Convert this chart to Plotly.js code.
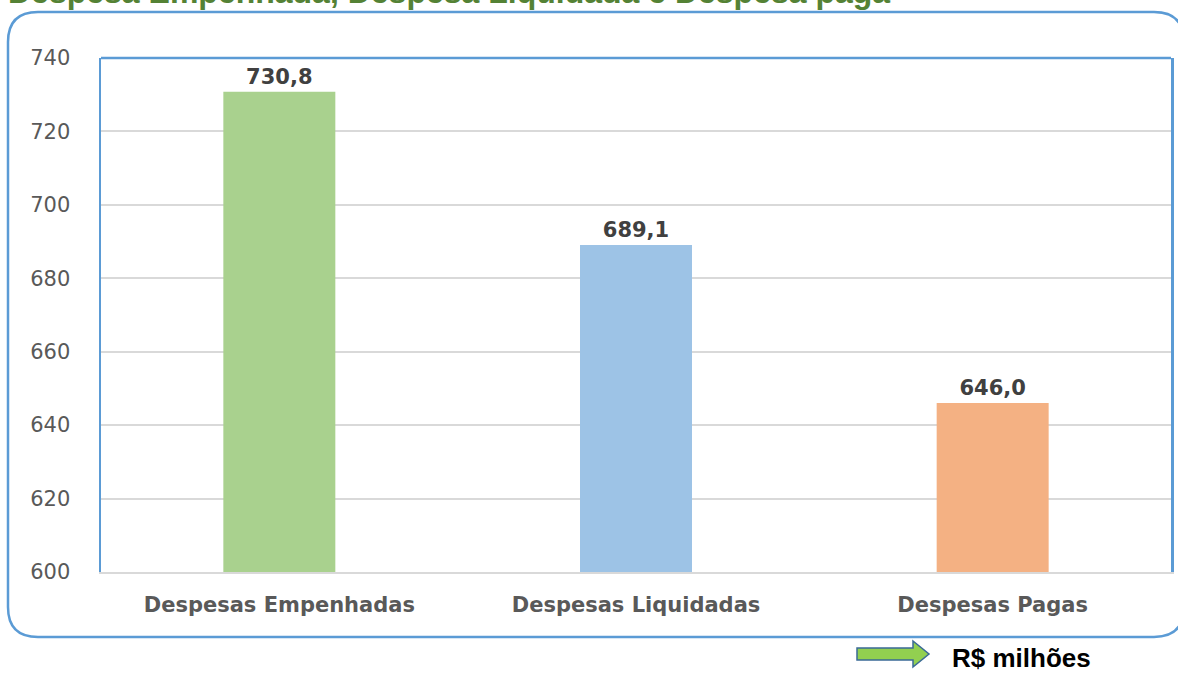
<!DOCTYPE html>
<html>
<head>
<meta charset="utf-8">
<script src="https://cdn.plot.ly/plotly-3.0.1.min.js"></script>
<style>
  html, body { margin: 0; padding: 0; background: #fff; }
  #chart { width: 1178px; height: 674px; }
</style>
</head>
<body>
<div id="chart"></div>
<script>
// categories and values (R$ milhões)
const categorias = ['Despesas Empenhadas', 'Despesas Liquidadas', 'Despesas Pagas'];
const valores = [730.8, 689.1, 646.0];
const cores = ['#A9D18E', '#9DC3E6', '#F4B183'];
const yTicks = [600, 620, 640, 660, 680, 700, 720, 740];

const rotulos = valores.map(v => v.toFixed(1).replace('.', ','));

// helpers to convert page pixels into paper coords for decorations
const L = 101, R = 1171, T = 58, B = 572;
const px = x => (x - L) / (R - L);
const py = y => (B - y) / (B - T);

function roundRect(x0, y0, x1, y1, r) {
  return 'M' + px(x0 + r) + ',' + py(y0) +
    ' L' + px(x1 - r) + ',' + py(y0) +
    ' Q' + px(x1) + ',' + py(y0) + ' ' + px(x1) + ',' + py(y0 + r) +
    ' L' + px(x1) + ',' + py(y1 - r) +
    ' Q' + px(x1) + ',' + py(y1) + ' ' + px(x1 - r) + ',' + py(y1) +
    ' L' + px(x0 + r) + ',' + py(y1) +
    ' Q' + px(x0) + ',' + py(y1) + ' ' + px(x0) + ',' + py(y1 - r) +
    ' L' + px(x0) + ',' + py(y0 + r) +
    ' Q' + px(x0) + ',' + py(y0) + ' ' + px(x0 + r) + ',' + py(y0) + ' Z';
}

function arrowPath() {
  const pts = [[857, 648], [913, 648], [913, 641], [929, 654], [913, 667], [913, 660], [857, 660]];
  return 'M' + pts.map(p => px(p[0]) + ',' + py(p[1])).join(' L') + ' Z';
}

const trace = {
  type: 'bar',
  x: categorias,
  y: valores,
  text: rotulos,
  textposition: 'outside',
  cliponaxis: false,
  textfont: { family: 'DejaVu Sans', size: 21, color: '#404040', weight: 'bold' },
  marker: { color: cores },
  hoverinfo: 'none'
};

const layout = {
  width: 1178,
  height: 674,
  margin: { l: L, r: 1178 - R, t: T, b: 674 - B },
  paper_bgcolor: '#ffffff',
  plot_bgcolor: '#ffffff',
  showlegend: false,
  bargap: 0.686,
  xaxis: {
    showline: true,
    linecolor: '#d9d9d9',
    linewidth: 2,
    ticks: '',
    ticklabelstandoff: 13,
    tickfont: { family: 'DejaVu Sans', size: 21, color: '#595959', weight: 'bold' }
  },
  yaxis: {
    range: [600, 740],
    tickvals: yTicks,
    showgrid: true,
    gridcolor: '#d9d9d9',
    gridwidth: 2,
    showline: true,
    mirror: true,
    linecolor: '#5B9BD5',
    linewidth: 2.5,
    zeroline: false,
    ticks: '',
    ticklabelstandoff: 24,
    tickfont: { family: 'DejaVu Sans', size: 21, color: '#595959' }
  },
  shapes: [
    { type: 'line', xref: 'paper', yref: 'paper', x0: 0, x1: 1, y0: 1, y1: 1,
      line: { color: '#5B9BD5', width: 2.5 } },
    { type: 'path', xref: 'paper', yref: 'paper', path: roundRect(8, 12, 1184, 637, 30),
      line: { color: '#5B9BD5', width: 2.5 }, fillcolor: 'rgba(0,0,0,0)' },
    { type: 'path', xref: 'paper', yref: 'paper', path: arrowPath(),
      line: { color: '#3A6A96', width: 1.5 }, fillcolor: '#92D050' }
  ],
  annotations: [
    { text: 'Despesa Empenhada, Despesa Liquidada e Despesa paga', xref: 'paper', yref: 'paper',
      x: px(6), y: py(-8), xanchor: 'left', yanchor: 'middle', showarrow: false,
      font: { family: 'Liberation Sans, Arial', size: 32, color: '#548235', weight: 'bold' } },
    { text: 'R$ milhões', xref: 'paper', yref: 'paper',
      x: px(950), y: py(658), xanchor: 'left', yanchor: 'middle', showarrow: false,
      font: { family: 'Liberation Sans, Arial', size: 26, color: '#000000', weight: 'bold' } }
  ]
};

Plotly.newPlot('chart', [trace], layout, { displayModeBar: false, staticPlot: true });
</script>
</body>
</html>
